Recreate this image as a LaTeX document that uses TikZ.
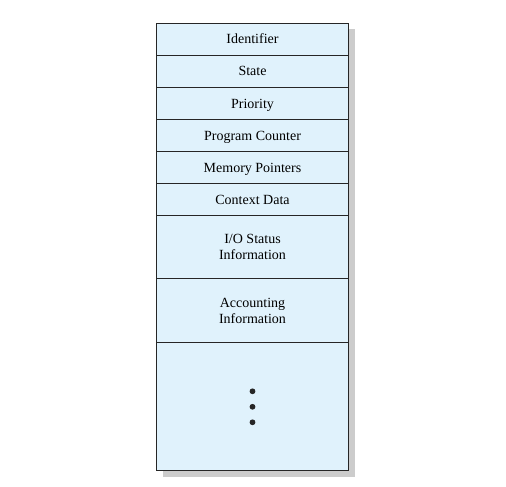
\documentclass[tikz,border=0pt]{standalone}
\usepackage{fontspec}
\setmainfont{Liberation Serif}
\usetikzlibrary{positioning,backgrounds}
\definecolor{pcbfill}{RGB}{224,242,252}
\definecolor{pcbshadow}{RGB}{204,204,204}
\tikzstyle{field}=[draw=black!85,fill=pcbfill,line width=0.8pt,minimum width=192pt,minimum height=32pt,inner sep=0pt,outer sep=0pt,align=center,font=\fontsize{14}{16}\selectfont]
\tikzstyle{single}=[field,text height=11pt,text depth=1.6pt]
\tikzstyle{dot}=[fill=black!85]

\begin{document}
\begin{tikzpicture}[x=1pt,y=1pt]
  \useasboundingbox (0,0) rectangle (506,-487);
  \node[single,anchor=north] (ident) at (252.5,-23.3) {Identifier};
  \node[single,below=0pt of ident] (state) {State};
  \node[single,below=0pt of state] (prio) {Priority};
  \node[single,below=0pt of prio] (pc) {Program Counter};
  \node[single,below=0pt of pc] (memptr) {Memory Pointers};
  \node[single,below=0pt of memptr] (ctx) {Context Data};
  \node[field,below=0pt of ctx,minimum height=63.5pt] (iostat) {I/O Status\\Information};
  \node[field,below=0pt of iostat,minimum height=64pt] (acct) {Accounting\\Information};
  \node[field,below=0pt of acct,minimum height=128pt] (rest) {};
  % the dots
  \foreach \dy in {15.5,0,-15.5}
    \fill[dot] ([yshift=\dy]rest.center) circle (2.9);
  % drop shadow
  \begin{scope}[on background layer]
    \fill[pcbshadow] ([shift={(6,-6)}]ident.north west) rectangle ([shift={(6,-6)}]rest.south east);
  \end{scope}
\end{tikzpicture}
\end{document}
